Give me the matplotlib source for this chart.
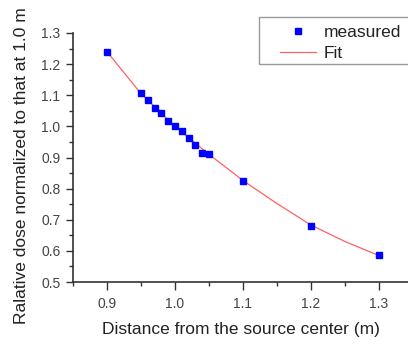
import matplotlib
matplotlib.use("Agg")
import matplotlib.pyplot as plt
from matplotlib.ticker import MultipleLocator, FormatStrFormatter
from matplotlib.patches import Rectangle

plt.rcParams['font.family'] = ['Liberation Sans', 'DejaVu Sans']

# measured data
distance = [0.90, 0.95, 0.96, 0.97, 0.98, 0.99, 1.00, 1.01, 1.02, 1.03, 1.04, 1.05, 1.10, 1.20, 1.30]
dose = [1.240, 1.106, 1.086, 1.060, 1.043, 1.018, 1.000, 0.986, 0.963, 0.940, 0.915, 0.912, 0.825, 0.680, 0.587]

# fit curve
fit_x = [0.90, 0.95, 1.00, 1.05, 1.10, 1.15, 1.20, 1.25, 1.30]
fit_y = [1.240, 1.105, 1.000, 0.910, 0.826, 0.752, 0.683, 0.630, 0.585]

fig = plt.figure(figsize=(4.08, 3.44), dpi=100)
ax = fig.add_axes([73/408, 1-282/344, 1-73/408, (282-33)/344])

ax.plot(fit_x, fit_y, color='#ff6060', lw=0.9, label='Fit', zorder=2)
ax.plot(distance, dose, 's', color='#0000ff', ms=5, mec='#0000ff', ls='none', label='measured', zorder=3)

ax.set_xlim(0.85, 0.85 + (408-73)/680)
ax.set_ylim(0.5, 1.3)
ax.xaxis.set_major_locator(MultipleLocator(0.1))
ax.xaxis.set_minor_locator(MultipleLocator(0.05))
ax.yaxis.set_major_locator(MultipleLocator(0.1))
ax.yaxis.set_minor_locator(MultipleLocator(0.05))
ax.xaxis.set_major_formatter(FormatStrFormatter('%.1f'))
ax.yaxis.set_major_formatter(FormatStrFormatter('%.1f'))

for s in ['top', 'right']:
    ax.spines[s].set_visible(False)
for s in ['left', 'bottom']:
    ax.spines[s].set_color('#333333')
    ax.spines[s].set_linewidth(1.2)
ax.tick_params(which='major', direction='out', length=5, width=1.0, colors='#333333',
               labelsize=10, labelcolor='#444444', pad=4)
ax.tick_params(which='minor', direction='out', length=3, width=1.0, colors='#333333')
ax.tick_params(axis='x', which='major', length=6, pad=5)

ax.set_xlabel('Distance from the source center (m)', fontsize=12.5, color='#222222', labelpad=8)
ax.set_ylabel('Ralative dose normalized to that at 1.0 m', fontsize=12.5, color='#222222')
ax.yaxis.set_label_coords(-0.131, 0.466)

handles, labels = ax.get_legend_handles_labels()
leg = fig.legend(handles[::-1], labels[::-1], loc='upper left', bbox_to_anchor=(280/408, 1-25/344),
                 fontsize=12.5, frameon=False, numpoints=1,
                 handlelength=2.1, handletextpad=0.4, borderpad=0, labelspacing=0.35, borderaxespad=0)
for t in leg.get_texts():
    t.set_color('#222222')
fig.patches.append(Rectangle((259/408, 1-64/344), 160/408, 47/344, transform=fig.transFigure,
                             fill=False, edgecolor='#999999', lw=1.0))

fig.savefig('out.png', dpi=100)
